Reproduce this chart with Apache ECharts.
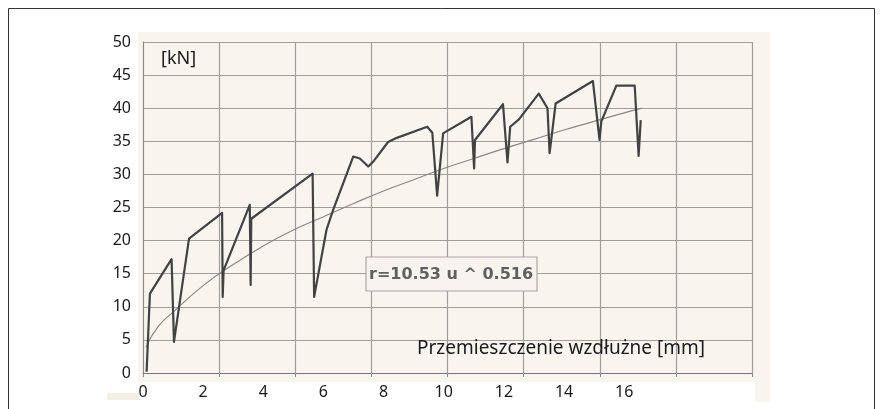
<!DOCTYPE html>
<html><head><meta charset="utf-8">
<script src="https://cdn.jsdelivr.net/npm/echarts@6/dist/echarts.min.js"></script>
<style>html,body{margin:0;padding:0;background:#fff}#c{width:880px;height:409px}</style>
</head><body><div id="c"></div>
<script>
// Measured load curve (x: displacement [mm], y: force [kN])
const loadX = [0.12,0.23,0.95,1.03,1.53,2.63,2.65,2.68,3.55,3.58,3.60,5.64,5.69,6.10,6.32,6.99,7.21,7.49,7.65,8.15,8.37,9.45,9.62,9.78,9.98,10.09,10.92,11.01,11.04,11.97,12.12,12.21,12.50,13.16,13.45,13.52,13.72,14.96,15.18,15.24,15.74,16.35,16.48,16.55];
const loadY = [0.2,12.0,17.2,4.7,20.3,24.2,11.5,15.5,25.4,13.3,23.3,30.1,11.5,21.6,24.6,32.7,32.4,31.2,31.9,34.9,35.4,37.2,36.3,26.8,36.2,36.5,38.7,30.9,35.2,40.6,31.8,37.2,38.3,42.2,40.0,33.2,40.7,44.1,35.2,38.0,43.4,43.4,32.8,38.2];
// Fitted trend curve
const trendX = [0.1,0.5,1,2,3,4,5,6,7,8,9,10,11,12,13,14,15,16,16.6];
const trendY = [3.9,7.0,9.2,13.2,16.4,19.2,21.6,23.6,25.6,27.5,29.2,30.9,32.4,33.9,35.3,36.7,38.0,39.3,40.0];
const xTickLabels = ['0','2','4','6','8','10','12','14','16'];
const yTicks = [0,5,10,15,20,25,30,35,40,45,50];
const yLabel = '[kN]';
const xLabel = 'Przemieszczenie wzdłużne [mm]';
const equation = 'r=10.53 u ^ 0.516';

const chart = echarts.init(document.getElementById('c'));
const font = 'Noto Sans';
chart.setOption({
  animation:false,
  backgroundColor:'#fff',
  grid:{left:143,right:128,top:42,bottom:36},
  xAxis:[
    {type:'value',min:0,max:20.25,interval:2,
     axisLine:{show:false},axisTick:{show:false},splitLine:{show:false},
     axisLabel:{margin:11,fontSize:16,color:'#1a1a1a',fontFamily:font,
       formatter:function(v){const i=Math.round(v/2);return (Math.abs(v-2*i)<1e-6 && i<xTickLabels.length)?xTickLabels[i]:'';}}},
    {type:'value',min:0,max:8,interval:1,position:'bottom',
     axisLine:{show:true,lineStyle:{color:'#777',width:1.2}},
     axisTick:{show:true,length:4,lineStyle:{color:'#888'}},
     axisLabel:{show:false},
     splitLine:{show:true,lineStyle:{color:'#a09e9a',width:1.2}}}
  ],
  yAxis:{type:'value',min:0,max:50,interval:5,
    axisLine:{show:true,lineStyle:{color:'#888'}},axisTick:{show:false},
    axisLabel:{margin:12,fontSize:16,color:'#1a1a1a',fontFamily:font,
      formatter:function(v){return yTicks.indexOf(v)>=0?String(v):'';}},
    splitLine:{show:true,lineStyle:{color:'#a09e9a',width:1.2}}},
  series:[
    {type:'line',xAxisIndex:0,data:trendX.map((x,i)=>[x,trendY[i]]),smooth:true,symbol:'none',
     lineStyle:{color:'#8a8886',width:1.2},z:3},
    {type:'line',xAxisIndex:0,data:loadX.map((x,i)=>[x,loadY[i]]),symbol:'none',
     lineStyle:{color:'#424242',width:2.2,join:'round'},z:4}
  ],
  graphic:[
    {type:'rect',shape:{x:8.5,y:8.5,width:866,height:420},style:{fill:null,stroke:'#333',lineWidth:1},z:-20,silent:true},
    {type:'rect',shape:{x:138,y:32,width:632,height:350},style:{fill:'#f8f5ef'},z:-10,silent:true},
    {type:'rect',shape:{x:755,y:380,width:15,height:22},style:{fill:'#f8f5ef'},z:-10,silent:true},
    {type:'rect',shape:{x:107,y:393,width:33,height:7},style:{fill:'#f5f0e6'},z:-10,silent:true},
    {type:'rect',shape:{x:366,y:257,width:171,height:34},style:{fill:'#f7f4ef',stroke:'#a9a7a2',lineWidth:1.2},z:10,silent:true},
    {type:'text',x:369,y:275,style:{text:equation,fill:'#606060',font:'bold 16px "DejaVu Sans"',textVerticalAlign:'middle'},z:11,silent:true},
    {type:'text',x:161,y:59,style:{text:yLabel,fill:'#1a1a1a',font:'18px "Noto Sans"',textVerticalAlign:'middle'},z:11,silent:true},
    {type:'text',x:417,y:349,style:{text:xLabel,fill:'#1a1a1a',font:'19px "Noto Sans"',textVerticalAlign:'middle'},z:11,silent:true}
  ]
});
</script></body></html>
